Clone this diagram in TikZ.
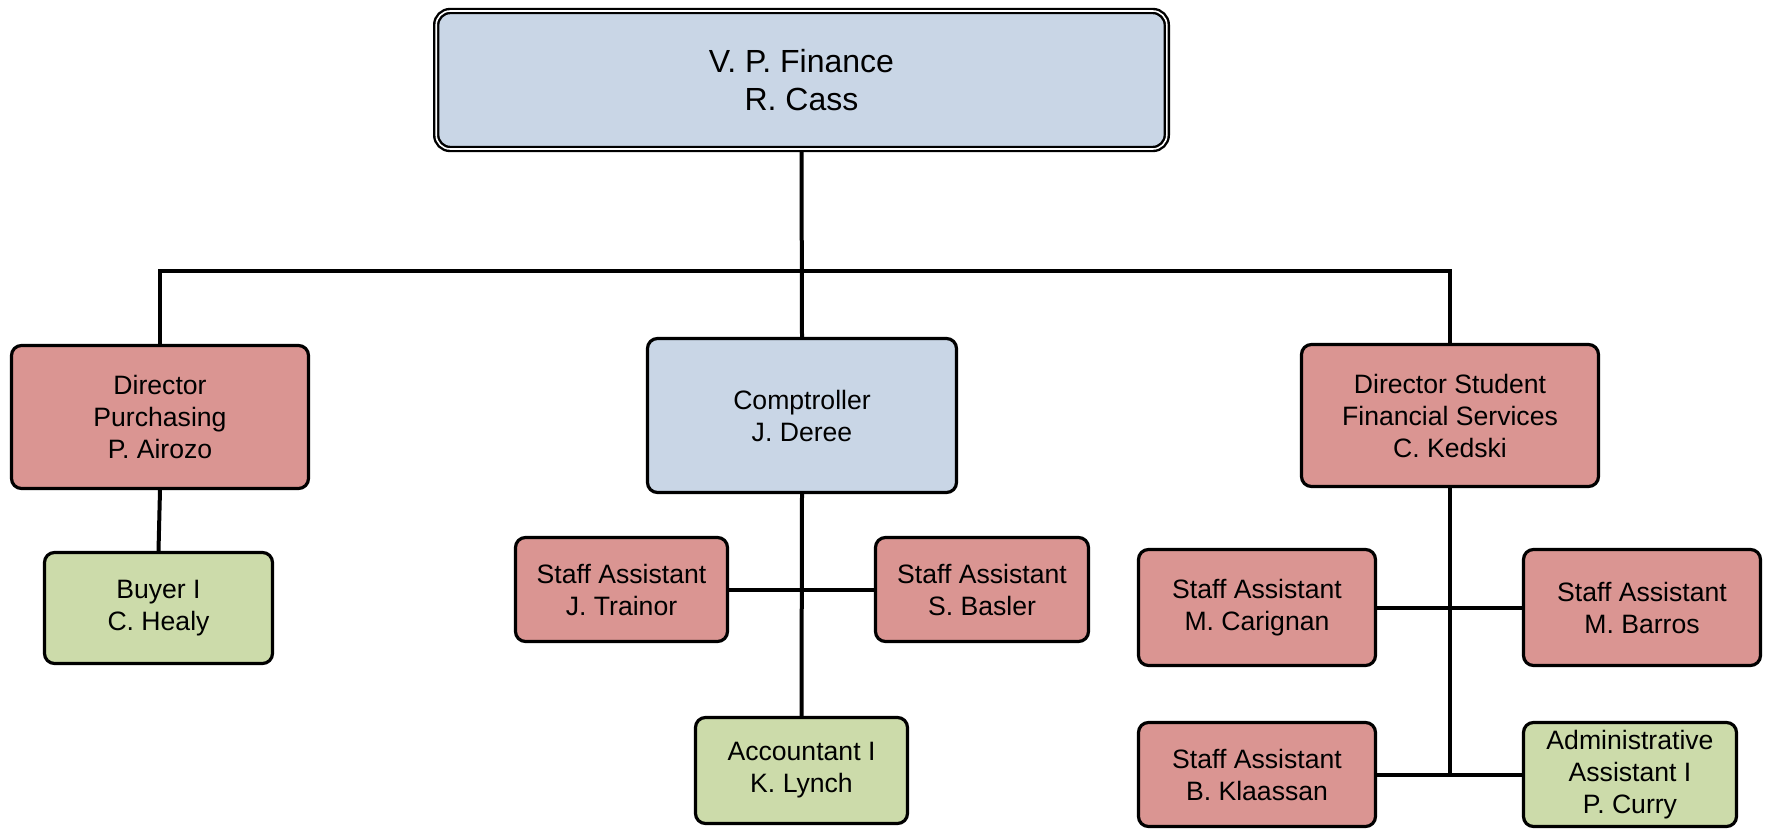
\documentclass[tikz,border=0pt]{standalone}
\usepackage{fontspec}
\setmainfont{Liberation Sans}
\definecolor{cblue}{RGB}{201,214,230}
\definecolor{cred}{RGB}{218,149,146}
\definecolor{cgreen}{RGB}{204,219,170}
\tikzset{
  box/.style={draw=black, line width=1.6pt, rounded corners=5pt, align=center,
    font=\fontsize{13.3}{16}\selectfont, inner sep=0pt},
  redbox/.style={box, fill=cred},
  bluebox/.style={box, fill=cblue},
  greenbox/.style={box, fill=cgreen},
  topbox/.style={draw=black, fill=cblue, line width=1.2pt, double=white, double distance=0.8pt,
    rounded corners=7pt, align=center, font=\fontsize{16}{19.2}\selectfont, inner sep=0pt},
  link/.style={draw=black, line width=2pt}
}
\begin{document}
\begin{tikzpicture}[x=0.5pt,y=-0.5pt]
\useasboundingbox (0,0) rectangle (1773,830);
\node[topbox, minimum width=365.3pt, minimum height=69pt] (top) at (801.5,80) {V. P. Finance\\R. Cass};
\node[redbox, minimum width=148.5pt, minimum height=71.5pt] (dp) at (160,417) {Director\\Purchasing\\P. Airozo};
\node[bluebox, minimum width=154.5pt, minimum height=77pt] (comp) at (802,415.5) {Comptroller\\J. Deree};
\node[redbox, minimum width=148.5pt, minimum height=71pt] (sfs) at (1450,415.5) {Director Student\\Financial Services\\C. Kedski};
\node[greenbox, minimum width=114pt, minimum height=55.5pt] (buyer) at (158.5,608) {Buyer I\\C. Healy};
\node[redbox, minimum width=106pt, minimum height=52pt] (trainor) at (621.5,589.5) {Staff Assistant\\J. Trainor};
\node[redbox, minimum width=106.5pt, minimum height=52pt] (basler) at (982,589.5) {Staff Assistant\\S. Basler};
\node[greenbox, minimum width=106pt, minimum height=53pt] (acct) at (801.5,770.5) {Accountant I\\K. Lynch};
\node[redbox, minimum width=118.5pt, minimum height=58pt] (carignan) at (1257,607.5) {Staff Assistant\\M. Carignan};
\node[redbox, minimum width=118.5pt, minimum height=58pt] (barros) at (1642,607.5) {Staff Assistant\\M. Barros};
\node[redbox, minimum width=118.5pt, minimum height=52pt] (klaassan) at (1257,774.5) {Staff Assistant\\B. Klaassan};
\node[greenbox, minimum width=106.5pt, minimum height=52pt] (admin) at (1630,774.5) {Administrative\\Assistant I\\P. Curry};
\coordinate (bus) at (802,271);
\coordinate (sfsend) at (1450,776);
\draw[link] (top.south) -- (comp.north);
\draw[link] (dp.north) |- (bus) -| (sfs.north);
\draw[link] (dp.south) -- (buyer.north);
\draw[link] (comp.south) -- (acct.north);
\draw[link] (trainor.east) -- (basler.west);
\draw[link] (sfs.south) -- (sfsend);
\draw[link] (carignan.east) -- (barros.west);
\draw[link] (klaassan.east) -- (admin.west);
\end{tikzpicture}
\end{document}
